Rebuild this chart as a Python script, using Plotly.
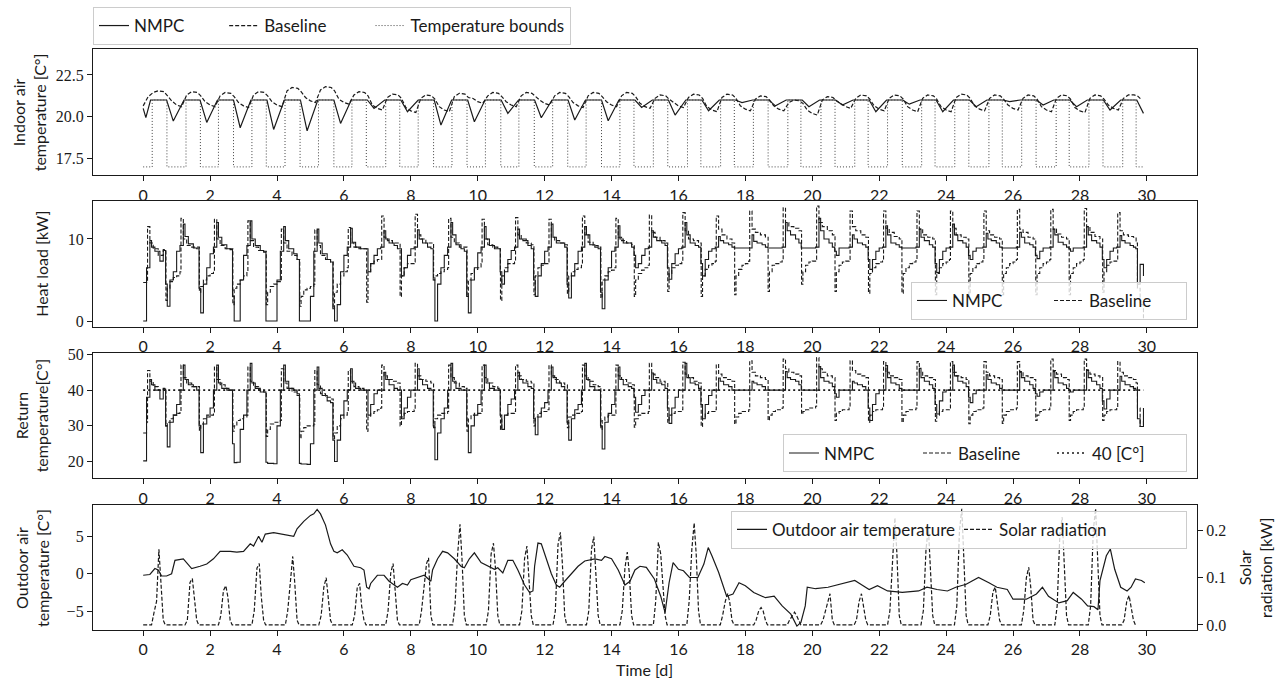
import plotly.graph_objects as go

# ---------------- data ----------------
T_END = 29.9          # last sample time [d]
X_TICKS = list(range(0, 31, 2))

# Indoor air temperature
indoor_nmpc_start_t = [0.0, 0.08]
indoor_nmpc_start_v = [20.5, 19.95]
indoor_nmpc_day_level = 21.0
indoor_nmpc_night_min = [19.74, 19.66, 19.34, 19.24, 19.16, 19.6, 20.5, 20.3, 19.5, 19.7,
                         20.2, 19.94, 19.8, 19.76, 20.55, 20.1, 20.36, 20.85, 20.65, 20.6,
                         20.7, 20.3, 20.75, 20.3, 20.6, 20.9, 20.7, 20.6, 20.4, 20.2]
IN_OFF = [0.22, 0.70, 0.90]

BI_OFF = [0.0, 0.15, 0.3, 0.45, 0.62, 0.72, 0.85]
indoor_baseline = [
    [20.65, 21.2, 21.45, 21.55, 21.5, 21.25, 20.95],
    [20.7, 20.6, 21.3, 21.5, 21.45, 21.25, 20.9],
    [20.7, 20.6, 21.25, 21.45, 21.4, 21.2, 20.85],
    [20.65, 20.55, 21.3, 21.5, 21.45, 21.25, 20.9],
    [20.7, 20.6, 21.55, 21.75, 21.7, 21.5, 21.15],
    [20.95, 20.85, 21.6, 21.8, 21.75, 21.55, 21.05],
    [20.85, 20.75, 21.3, 21.5, 21.45, 21.25, 20.7],
    [20.5, 20.4, 21.15, 21.35, 21.3, 21.1, 20.55],
    [20.35, 20.25, 21.1, 21.3, 21.25, 21.05, 20.6],
    [20.4, 20.3, 21.2, 21.4, 21.35, 21.15, 21.1],
    [20.9, 20.8, 21.25, 21.45, 21.4, 21.2, 20.9],
    [20.7, 20.6, 21.25, 21.45, 21.4, 21.2, 21.0],
    [20.8, 20.7, 21.25, 21.45, 21.4, 21.2, 20.85],
    [20.65, 20.55, 21.25, 21.45, 21.4, 21.2, 20.9],
    [20.7, 20.6, 21.25, 21.45, 21.4, 21.2, 20.8],
    [20.6, 20.5, 21.1, 21.3, 21.25, 21.05, 20.85],
    [20.65, 20.55, 21.15, 21.35, 21.3, 21.1, 20.6],
    [20.4, 20.3, 21.15, 21.35, 21.3, 21.1, 20.65],
    [20.45, 20.35, 21.05, 21.25, 21.2, 21.0, 20.65],
    [20.45, 20.35, 20.85, 21.0, 20.95, 20.8, 20.4],
    [20.2, 20.1, 21.0, 21.2, 21.15, 20.95, 20.8],
    [20.6, 20.5, 21.1, 21.3, 21.25, 21.05, 20.65],
    [20.45, 20.35, 21.1, 21.3, 21.25, 21.05, 20.6],
    [20.4, 20.3, 21.1, 21.3, 21.25, 21.05, 20.6],
    [20.4, 20.3, 21.15, 21.35, 21.3, 21.1, 20.65],
    [20.45, 20.35, 21.1, 21.3, 21.25, 21.05, 20.7],
    [20.5, 20.4, 21.1, 21.3, 21.25, 21.05, 20.6],
    [20.4, 20.3, 21.1, 21.3, 21.25, 21.05, 20.55],
    [20.35, 20.25, 21.1, 21.3, 21.25, 21.05, 20.7],
    [20.5, 20.4, 21.1, 21.3, 21.3, 21.25, 21.0],
]

bound_low, bound_high = 17.0, 21.0
bound_on = [0.27, 1.28, 2.25, 3.25, 4.24, 5.24, 6.24, 7.25, 8.22, 9.23,
            10.23, 11.23, 12.24, 13.24, 14.25, 15.25, 16.27, 17.26, 18.24, 19.27,
            20.26, 21.27, 22.25, 23.27, 24.26, 25.28, 26.26, 27.29, 28.27, 29.28]
bound_off = [0.71, 1.71, 2.70, 3.68, 4.69, 5.70, 6.67, 7.67, 8.68, 9.68,
             10.69, 11.69, 12.69, 13.70, 14.67, 15.68, 16.67, 17.67, 18.68, 19.66,
             20.68, 21.67, 22.69, 23.67, 24.68, 25.68, 26.69, 27.68, 28.69, 29.68]

# Heat load [kW]
N_OFF = [0.0, 0.1, 0.2, 0.25, 0.35, 0.5, 0.6, 0.67, 0.72, 0.8, 0.9]
heat_nmpc = [
    [0.0, 6.5, 9.8, 9.0, 8.5, 7.3, 8.6, 4.5, 1.8, 5.0, 6.0],
    [8.5, 9.2, 11.8, 10.3, 9.4, 8.9, 8.8, 4.0, 1.0, 4.5, 6.5],
    [8.2, 9.0, 12.0, 10.2, 9.3, 8.8, 8.7, 3.0, 0.0, 0.0, 5.0],
    [8.0, 9.2, 12.2, 10.0, 9.2, 8.6, 8.4, 0.0, 0.0, 0.0, 0.0],
    [5.0, 8.5, 11.5, 9.8, 8.8, 8.2, 7.5, 0.0, 0.0, 0.0, 0.0],
    [3.0, 8.5, 11.2, 9.5, 8.2, 7.5, 7.2, 1.5, 0.0, 2.0, 6.0],
    [8.0, 9.0, 11.3, 9.6, 9.0, 8.8, 8.8, 8.8, 6.0, 7.0, 8.0],
    [8.8, 9.0, 11.0, 10.0, 9.5, 9.2, 8.8, 8.8, 5.5, 6.5, 8.0],
    [8.8, 9.0, 11.1, 10.0, 9.5, 9.0, 8.8, 5.0, 0.0, 4.5, 6.5],
    [8.0, 9.0, 12.0, 10.5, 9.3, 8.8, 8.5, 3.0, 1.0, 5.0, 6.5],
    [8.3, 9.0, 11.5, 10.0, 9.2, 8.8, 8.8, 6.0, 4.5, 6.0, 7.5],
    [8.6, 9.0, 11.2, 10.0, 9.8, 9.2, 8.8, 5.0, 3.0, 5.5, 7.0],
    [8.5, 9.0, 11.8, 10.2, 9.5, 9.5, 9.0, 4.5, 2.8, 5.5, 7.0],
    [8.5, 9.0, 11.5, 10.5, 9.3, 9.0, 8.8, 3.5, 1.5, 5.0, 6.5],
    [8.5, 9.0, 11.6, 10.0, 9.5, 9.5, 9.0, 8.0, 6.5, 7.0, 8.0],
    [8.8, 9.0, 11.0, 10.2, 9.8, 9.5, 9.2, 6.5, 5.1, 7.0, 8.2],
    [8.8, 9.0, 12.0, 10.5, 9.5, 9.2, 9.0, 7.0, 5.5, 7.5, 8.5],
    [8.8, 9.0, 10.3, 9.8, 9.5, 9.3, 9.0, 8.9, 8.9, 8.9, 8.9],
    [8.9, 8.9, 10.5, 9.7, 9.5, 9.3, 9.0, 8.9, 8.9, 8.9, 8.9],
    [8.9, 9.0, 12.0, 11.0, 10.5, 10.0, 9.5, 8.9, 8.9, 8.9, 8.9],
    [8.9, 9.0, 12.5, 11.0, 10.0, 9.5, 9.0, 8.5, 8.0, 8.9, 8.9],
    [8.9, 9.0, 10.5, 10.0, 9.5, 9.3, 9.0, 7.5, 6.3, 7.5, 8.5],
    [8.9, 9.0, 11.6, 10.5, 9.5, 9.3, 9.0, 8.9, 8.9, 8.9, 8.9],
    [8.9, 9.0, 11.2, 10.2, 9.8, 9.3, 9.0, 7.0, 5.9, 7.5, 8.5],
    [8.9, 9.0, 11.8, 10.5, 9.8, 9.5, 9.0, 8.0, 7.5, 8.5, 8.9],
    [8.9, 9.0, 10.7, 10.0, 9.8, 9.5, 9.0, 8.9, 8.9, 8.9, 8.9],
    [8.9, 9.0, 10.8, 10.2, 9.5, 9.3, 9.0, 8.0, 7.6, 8.5, 8.9],
    [8.9, 9.0, 11.2, 10.5, 9.6, 9.3, 9.0, 8.8, 8.5, 8.9, 8.9],
    [8.9, 9.0, 11.5, 10.5, 9.8, 9.5, 9.0, 7.5, 6.5, 7.5, 8.5],
    [8.9, 9.0, 10.4, 9.8, 9.5, 9.2, 9.0, 8.8, 4.5, 6.9, 5.5],
]

B_OFF = [0.0, 0.1, 0.13, 0.2, 0.3, 0.45, 0.6, 0.68, 0.72, 0.8, 0.9]
heat_baseline = [
    [4.7, 4.7, 11.5, 9.5, 8.8, 8.0, 8.7, 2.5, 4.0, 4.8, 5.3],
    [5.5, 6.0, 12.5, 10.0, 9.2, 9.0, 9.0, 3.5, 4.2, 5.0, 5.5],
    [5.8, 6.0, 12.4, 10.0, 9.2, 8.8, 8.8, 2.0, 4.0, 4.5, 5.0],
    [5.5, 6.0, 12.2, 9.8, 9.0, 8.6, 8.5, 2.0, 3.5, 4.2, 4.5],
    [4.8, 5.0, 11.2, 9.5, 8.5, 8.0, 7.5, 1.8, 3.0, 3.8, 4.0],
    [4.2, 4.5, 11.1, 9.2, 8.0, 7.5, 7.2, 1.5, 3.5, 4.5, 5.5],
    [6.0, 6.5, 11.4, 9.5, 9.0, 8.8, 8.8, 2.3, 6.0, 7.0, 7.3],
    [7.5, 7.5, 12.8, 10.2, 9.8, 9.5, 9.5, 3.0, 5.5, 6.5, 7.0],
    [7.0, 7.2, 13.0, 10.5, 10.0, 9.5, 9.5, 5.0, 5.5, 5.8, 6.0],
    [6.3, 6.5, 12.5, 10.2, 9.5, 9.0, 9.0, 3.0, 5.0, 5.8, 6.3],
    [6.5, 7.0, 12.4, 10.0, 9.3, 9.0, 8.8, 2.5, 5.5, 6.5, 7.0],
    [7.0, 7.2, 12.6, 10.5, 10.0, 9.5, 9.3, 3.2, 5.5, 6.5, 6.8],
    [7.0, 7.2, 12.4, 10.2, 9.8, 9.5, 9.3, 3.4, 5.5, 6.0, 6.3],
    [6.5, 6.8, 12.8, 10.5, 9.6, 9.2, 9.0, 2.8, 5.0, 5.5, 6.0],
    [6.2, 6.5, 12.5, 10.2, 9.8, 9.5, 9.3, 3.0, 5.0, 5.8, 6.2],
    [6.5, 6.8, 12.9, 10.8, 10.2, 9.8, 9.5, 3.6, 5.8, 6.5, 6.8],
    [7.0, 7.2, 13.2, 11.0, 10.0, 9.8, 9.5, 3.0, 5.5, 6.3, 6.8],
    [7.0, 7.3, 12.8, 11.2, 10.5, 10.0, 9.5, 3.2, 5.5, 6.3, 6.8],
    [7.0, 7.3, 13.4, 11.2, 10.8, 10.5, 10.2, 3.6, 6.0, 6.8, 7.0],
    [7.2, 7.5, 13.8, 12.0, 11.5, 11.3, 11.0, 4.5, 6.0, 6.8, 7.2],
    [7.3, 7.5, 14.0, 12.0, 11.5, 11.0, 10.5, 3.6, 6.0, 6.8, 7.2],
    [7.3, 7.5, 13.4, 11.5, 11.0, 10.5, 10.2, 3.4, 5.8, 6.5, 7.0],
    [7.2, 7.5, 13.4, 11.3, 10.8, 10.3, 10.0, 3.4, 5.8, 6.5, 7.0],
    [7.2, 7.5, 13.4, 11.2, 10.5, 10.2, 10.0, 3.2, 5.8, 6.5, 7.0],
    [7.2, 7.5, 13.4, 11.3, 10.5, 10.2, 10.0, 3.2, 5.8, 6.5, 7.0],
    [7.2, 7.5, 13.4, 11.0, 10.5, 10.2, 10.0, 3.2, 5.8, 6.5, 7.0],
    [7.2, 7.5, 13.6, 11.2, 10.8, 10.2, 10.0, 3.2, 5.8, 6.5, 7.0],
    [7.2, 7.5, 13.6, 11.2, 10.6, 10.2, 10.0, 3.2, 5.8, 6.5, 7.0],
    [7.2, 7.5, 13.7, 11.5, 10.8, 10.3, 10.0, 3.5, 6.0, 6.8, 7.2],
    [7.3, 7.5, 13.2, 11.0, 10.5, 10.3, 10.2, 9.5, 4.0, 2.0, 0.2],
]

# Return temperature [C]
return_nmpc = [
    [20.2, 38.0, 43.0, 41.5, 40.0, 37.5, 40.3, 30.0, 24.1, 31.0, 33.0],
    [36.0, 40.0, 47.0, 43.0, 41.5, 41.0, 40.0, 30.0, 22.5, 30.5, 32.5],
    [35.0, 40.0, 47.0, 42.0, 40.5, 40.0, 40.0, 25.0, 19.7, 19.8, 29.0],
    [33.0, 40.0, 47.5, 42.0, 40.5, 39.5, 39.5, 19.8, 19.5, 19.5, 19.4],
    [30.0, 40.0, 47.0, 42.5, 40.5, 40.0, 39.0, 19.5, 19.3, 19.3, 19.2],
    [25.0, 40.0, 46.5, 40.5, 38.5, 37.0, 36.5, 26.0, 20.0, 26.0, 33.0],
    [37.0, 40.0, 46.0, 42.0, 40.5, 40.0, 40.0, 40.0, 33.0, 36.0, 39.0],
    [40.0, 40.0, 45.0, 43.0, 41.5, 40.5, 40.0, 40.0, 32.0, 35.0, 38.0],
    [40.0, 40.0, 46.0, 43.0, 41.5, 40.5, 40.0, 30.0, 20.5, 28.0, 32.0],
    [35.0, 40.0, 47.5, 42.5, 40.5, 40.0, 40.0, 30.0, 22.5, 30.0, 33.0],
    [36.0, 40.0, 47.0, 42.0, 40.5, 40.0, 40.0, 33.0, 29.0, 33.0, 36.0],
    [37.5, 40.0, 45.0, 43.0, 42.0, 41.0, 40.5, 32.0, 27.5, 32.5, 35.0],
    [36.5, 40.0, 46.5, 43.5, 42.0, 41.0, 40.0, 31.0, 26.0, 32.0, 34.5],
    [36.0, 40.0, 47.5, 43.0, 41.0, 40.0, 40.0, 30.0, 23.5, 31.0, 33.5],
    [36.0, 40.0, 46.5, 43.0, 41.5, 41.0, 40.5, 38.0, 33.8, 36.0, 38.5],
    [40.0, 40.0, 44.8, 43.0, 42.0, 41.5, 40.5, 35.0, 30.7, 35.0, 38.0],
    [40.0, 40.0, 47.5, 43.5, 42.0, 41.5, 40.5, 36.0, 32.0, 36.0, 38.5],
    [40.0, 40.0, 43.4, 42.5, 41.5, 41.0, 40.0, 40.0, 40.0, 40.0, 40.0],
    [40.0, 40.0, 42.5, 42.0, 41.5, 41.0, 40.0, 40.0, 40.0, 40.0, 40.0],
    [40.0, 40.0, 45.2, 43.5, 43.0, 42.5, 41.5, 40.0, 40.0, 40.0, 40.0],
    [40.0, 40.0, 46.6, 43.5, 42.5, 42.0, 41.0, 39.0, 38.0, 40.0, 40.0],
    [40.0, 40.0, 42.5, 42.0, 41.5, 41.0, 40.0, 35.0, 31.5, 36.0, 39.0],
    [40.0, 40.0, 46.9, 43.5, 42.0, 41.5, 40.5, 40.0, 40.0, 40.0, 40.0],
    [40.0, 40.0, 46.1, 43.5, 42.5, 41.5, 40.5, 36.0, 33.3, 37.0, 39.5],
    [40.0, 40.0, 47.0, 44.0, 42.5, 42.0, 41.0, 38.0, 36.5, 39.0, 40.0],
    [40.0, 40.0, 44.3, 43.0, 42.0, 41.5, 40.5, 40.0, 40.0, 40.0, 40.0],
    [40.0, 40.0, 45.2, 43.5, 42.5, 41.5, 40.5, 39.0, 38.3, 39.5, 40.0],
    [40.0, 40.0, 45.2, 43.5, 42.0, 41.5, 40.5, 40.0, 39.5, 40.0, 40.0],
    [40.0, 40.0, 45.7, 43.5, 42.5, 41.5, 40.5, 37.0, 34.7, 37.5, 40.0],
    [40.0, 40.0, 43.9, 42.5, 41.5, 41.0, 40.5, 40.0, 32.0, 29.8, 35.0],
]
return_baseline = [
    [28.0, 31.0, 45.5, 42.5, 41.0, 40.0, 40.5, 30.0, 31.0, 32.0, 33.0],
    [33.5, 34.0, 47.0, 43.5, 42.0, 41.0, 41.0, 28.8, 30.5, 32.0, 33.0],
    [33.0, 33.5, 46.5, 43.0, 41.5, 40.5, 40.0, 28.5, 30.0, 31.5, 32.0],
    [32.5, 33.0, 46.5, 42.5, 41.0, 40.0, 39.5, 27.0, 29.0, 30.5, 31.0],
    [31.0, 31.5, 46.0, 42.0, 40.5, 39.5, 38.5, 26.5, 28.5, 29.5, 30.0],
    [30.0, 30.5, 45.5, 41.5, 39.0, 38.0, 37.5, 26.5, 28.0, 30.0, 32.0],
    [33.0, 34.0, 45.5, 42.5, 41.0, 40.5, 40.0, 28.5, 32.5, 33.5, 34.0],
    [34.5, 35.0, 47.0, 44.0, 43.0, 42.5, 42.0, 30.0, 32.5, 33.5, 34.0],
    [34.0, 34.5, 47.5, 44.0, 43.0, 42.5, 42.0, 29.5, 32.0, 33.0, 33.5],
    [33.5, 34.0, 47.0, 43.5, 42.0, 41.0, 40.5, 28.5, 32.0, 33.0, 33.5],
    [33.5, 34.0, 47.0, 43.5, 42.0, 41.0, 40.5, 29.0, 32.0, 33.0, 33.5],
    [33.5, 34.0, 47.0, 44.0, 43.0, 42.5, 42.0, 30.0, 32.5, 33.5, 34.0],
    [34.0, 34.5, 47.0, 44.0, 43.0, 42.0, 41.5, 29.5, 32.5, 33.0, 33.5],
    [33.5, 34.0, 47.0, 44.0, 42.5, 41.5, 41.0, 29.0, 31.5, 32.5, 33.0],
    [33.0, 33.5, 47.0, 44.0, 43.0, 42.0, 41.5, 29.6, 32.0, 33.0, 33.5],
    [33.5, 34.0, 47.5, 44.5, 43.5, 42.5, 42.0, 31.0, 33.0, 33.5, 34.0],
    [34.0, 34.5, 47.8, 44.5, 43.5, 42.5, 42.0, 29.8, 32.5, 33.5, 34.0],
    [34.0, 34.5, 47.2, 44.5, 43.5, 43.0, 42.5, 30.5, 32.5, 33.5, 34.0],
    [34.0, 34.5, 48.2, 45.0, 44.0, 43.5, 43.0, 31.5, 33.0, 34.0, 34.5],
    [34.5, 35.0, 48.7, 46.0, 45.0, 44.5, 44.0, 33.3, 34.0, 34.5, 35.0],
    [35.0, 35.5, 49.1, 46.0, 45.0, 44.0, 43.5, 31.5, 33.5, 34.0, 34.5],
    [34.5, 35.0, 48.2, 45.5, 44.5, 44.0, 43.5, 31.0, 33.0, 34.0, 34.5],
    [34.5, 35.0, 48.0, 45.0, 44.0, 43.5, 43.0, 31.0, 33.0, 34.0, 34.5],
    [34.5, 35.0, 48.0, 45.0, 44.0, 43.5, 43.0, 31.3, 33.0, 34.0, 34.5],
    [34.5, 35.0, 48.0, 45.0, 44.0, 43.5, 43.0, 30.6, 33.0, 34.0, 34.5],
    [34.5, 35.0, 48.0, 45.0, 44.0, 43.5, 43.0, 30.7, 33.0, 34.0, 34.5],
    [34.5, 35.0, 48.0, 45.0, 44.0, 43.5, 43.0, 31.5, 33.0, 34.0, 34.5],
    [34.5, 35.0, 48.7, 45.5, 44.5, 43.5, 43.0, 31.5, 33.0, 34.0, 34.5],
    [34.5, 35.0, 48.7, 45.5, 44.5, 44.0, 43.5, 31.5, 33.0, 34.0, 34.5],
    [34.5, 35.0, 48.0, 45.0, 44.0, 43.5, 43.0, 42.0, 35.0, 29.8, 32.0],
]
return_ref = 40.0

# Outdoor air temperature: (time [d], value [C])
outdoor_temp = [
    (0.0, -0.2), (0.2, -0.1), (0.35, 0.7), (0.45, 0.5), (0.55, -0.3), (0.7, -0.3), (0.85, 0.0),
    (0.95, 1.8), (1.2, 2.0), (1.3, 1.5), (1.45, 0.7), (1.7, 1.0), (1.9, 1.3), (2.1, 2.0),
    (2.3, 3.0), (2.6, 3.0), (2.8, 2.9), (3.0, 3.0), (3.2, 4.0), (3.3, 3.7), (3.45, 5.0),
    (3.55, 4.2), (3.65, 5.3), (3.9, 5.5), (4.1, 5.3), (4.3, 5.2), (4.5, 5.0), (4.6, 6.0),
    (4.8, 7.0), (5.0, 7.8), (5.1, 8.0), (5.2, 8.6), (5.3, 8.0), (5.45, 6.5), (5.55, 5.0),
    (5.6, 4.0), (5.7, 3.0), (5.8, 2.8), (5.95, 3.2), (6.1, 2.5), (6.3, 1.0), (6.5, 0.8),
    (6.6, 0.5), (6.68, -1.8), (6.75, -2.0), (6.8, -1.3), (7.0, -0.2), (7.2, -0.2), (7.35, -1.0),
    (7.6, -1.8), (7.75, -1.3), (7.9, -1.5), (8.0, -0.8), (8.2, -0.5), (8.4, -0.2), (8.6, -1.0),
    (8.65, 0.5), (8.8, 2.0), (8.95, 3.0), (9.1, 2.8), (9.3, 2.0), (9.5, 1.0), (9.6, 0.8),
    (9.75, 2.0), (9.9, 2.8), (10.1, 1.5), (10.3, 1.0), (10.5, 0.6), (10.6, 0.8), (10.75, 0.1),
    (10.9, 1.8), (11.05, 1.8), (11.2, 0.5), (11.4, -1.5), (11.55, -2.5), (11.65, -2.3),
    (11.7, 1.0), (11.8, 4.1), (11.9, 4.0), (12.05, 2.0), (12.2, 0.0), (12.35, -1.5),
    (12.45, -1.8), (12.6, -1.0), (12.8, 0.0), (13.0, 1.0), (13.2, 1.7), (13.5, 2.0),
    (13.7, 1.8), (13.8, 2.3), (14.0, 2.0), (14.2, 0.5), (14.4, -1.5), (14.55, -1.0),
    (14.7, 0.5), (14.85, 1.0), (15.04, 0.85), (15.28, -0.7), (15.47, -3.0), (15.6, -5.2),
    (15.72, -1.2), (15.84, 1.5), (16.0, 0.6), (16.15, 0.4), (16.33, -0.5), (16.58, -0.5),
    (16.76, 1.3), (16.89, 3.5), (17.0, 2.4), (17.2, 0.2), (17.44, -3.0), (17.63, -2.7),
    (17.81, -1.2), (18.0, -1.6), (18.25, -2.5), (18.6, -3.2), (18.86, -3.0), (19.1, -4.3),
    (19.36, -5.4), (19.54, -7.0), (19.66, -6.5), (19.79, -4.3), (19.85, -1.8), (20.1, -2.0),
    (20.47, -1.8), (20.84, -1.4), (21.27, -0.9), (21.45, -1.4), (21.7, -2.1), (21.95, -1.6),
    (22.25, -2.3), (22.69, -2.5), (23.18, -2.3), (23.43, -1.8), (23.73, -2.1), (24.04, -2.3),
    (24.29, -1.8), (24.6, -1.4), (24.97, -0.5), (25.28, -1.2), (25.52, -1.8), (25.83, -2.1),
    (26.0, -3.4), (26.4, -3.4), (26.7, -2.7), (26.88, -1.8), (27.06, -3.0), (27.37, -3.9),
    (27.62, -3.6), (27.8, -2.5), (28.05, -3.4), (28.23, -4.3), (28.42, -4.4), (28.54, -4.8),
    (28.6, -0.9), (28.79, 2.4), (28.91, 3.3), (29.04, 0.6), (29.22, -1.8), (29.41, -2.3),
    (29.53, -1.8), (29.66, -0.7), (29.84, -0.9), (29.94, -1.2),
]

# Solar radiation [kW], per day
S_OFF = [0.0, 0.25, 0.32, 0.4, 0.47, 0.53, 0.6, 0.66]
solar = [
    [0, 0, 0.025, 0.05, 0.16, 0.09, 0.01, 0],
    [0, 0, 0.01, 0.09, 0.098, 0.05, 0.01, 0],
    [0, 0, 0.02, 0.073, 0.083, 0.06, 0.01, 0],
    [0, 0, 0.03, 0.12, 0.13, 0.06, 0.01, 0],
    [0, 0, 0.03, 0.10, 0.145, 0.09, 0.01, 0],
    [0, 0, 0.02, 0.08, 0.10, 0.06, 0.01, 0],
    [0, 0, 0.02, 0.08, 0.088, 0.04, 0.01, 0],
    [0, 0, 0.03, 0.11, 0.13, 0.07, 0.01, 0],
    [0, 0, 0.03, 0.09, 0.13, 0.142, 0.02, 0],
    [0, 0, 0.04, 0.15, 0.213, 0.14, 0.02, 0],
    [0, 0, 0.03, 0.15, 0.173, 0.12, 0.02, 0],
    [0, 0, 0.03, 0.14, 0.167, 0.10, 0.02, 0],
    [0, 0, 0.03, 0.17, 0.196, 0.13, 0.02, 0],
    [0, 0, 0.03, 0.16, 0.187, 0.12, 0.02, 0],
    [0, 0, 0.03, 0.12, 0.154, 0.11, 0.02, 0],
    [0, 0, 0.05, 0.175, 0.15, 0.09, 0.02, 0],
    [0, 0, 0.05, 0.16, 0.216, 0.15, 0.03, 0],
    [0, 0, 0.02, 0.05, 0.066, 0.05, 0.01, 0],
    [0, 0, 0.01, 0.03, 0.037, 0.03, 0.01, 0],
    [0, 0, 0.01, 0.02, 0.027, 0.02, 0.01, 0],
    [0, 0, 0.01, 0.03, 0.05, 0.066, 0.01, 0],
    [0, 0, 0.01, 0.05, 0.066, 0.04, 0.01, 0],
    [0, 0, 0.03, 0.15, 0.227, 0.15, 0.02, 0],
    [0, 0, 0.03, 0.16, 0.207, 0.13, 0.02, 0],
    [0, 0, 0.04, 0.20, 0.246, 0.15, 0.02, 0],
    [0, 0, 0.02, 0.07, 0.08, 0.05, 0.01, 0],
    [0, 0, 0.03, 0.10, 0.122, 0.08, 0.01, 0],
    [0, 0, 0.04, 0.19, 0.228, 0.14, 0.02, 0],
    [0, 0, 0.04, 0.20, 0.246, 0.15, 0.02, 0],
    [0, 0, 0.01, 0.05, 0.062, 0.04, 0.01, 0],
]

# ---------------- helpers ----------------
def expand(rows, offs):
    t, v = [], []
    for d, row in enumerate(rows):
        for o, val in zip(offs, row):
            t.append(d + o)
            v.append(val)
    return t, v


def close_step(t, v):
    # extend last step value to the end of the record
    return t + [T_END], v + [v[-1]]


# indoor NMPC
in_t = list(indoor_nmpc_start_t)
in_v = list(indoor_nmpc_start_v)
for d, m in enumerate(indoor_nmpc_night_min):
    for o, val in zip(IN_OFF, [indoor_nmpc_day_level, indoor_nmpc_day_level, m]):
        in_t.append(d + o)
        in_v.append(val)
bi_t, bi_v = expand(indoor_baseline, BI_OFF)

bd_t, bd_v = [0.0], [bound_low]
for on, off in zip(bound_on, bound_off):
    bd_t += [on, off]
    bd_v += [bound_high, bound_low]
bd_t.append(T_END)
bd_v.append(bound_low)

hn_t, hn_v = close_step(*expand(heat_nmpc, N_OFF))
hb_t, hb_v = close_step(*expand(heat_baseline, B_OFF))
rn_t, rn_v = close_step(*expand(return_nmpc, N_OFF))
rb_t, rb_v = close_step(*expand(return_baseline, B_OFF))
so_t, so_v = expand(solar, S_OFF)
ot_t = [p[0] for p in outdoor_temp]
ot_v = [p[1] for p in outdoor_temp]

# ---------------- figure ----------------
W, H = 1276, 688
INK = "#1a1a1a"
SANS = "Lato"
SERIF = "Liberation Serif"
PAD = "\u00a0"


def px_x(p):
    return p / W


def px_y(p):
    return 1 - p / H


panels = [(43, 171), (197, 325), (352, 479), (506, 633)]
XL, XR = 93, 1197

fig = go.Figure()
lw = 1.2
solid = dict(color=INK, width=lw)
dashed = dict(color=INK, width=lw, dash="4px,2px")

fig.add_trace(go.Scatter(x=in_t, y=in_v, mode="lines", line=solid, name="NMPC" + PAD * 8,
                         xaxis="x", yaxis="y", legend="legend"))
fig.add_trace(go.Scatter(x=bi_t, y=bi_v, mode="lines", line=dashed, name="Baseline" + PAD * 9,
                         xaxis="x", yaxis="y", legend="legend"))
fig.add_trace(go.Scatter(x=bd_t, y=bd_v, mode="lines", line=dict(color="#444", width=1, dash="1px,2px", shape="hv"),
                         name="Temperature bounds", xaxis="x", yaxis="y", legend="legend"))

fig.add_trace(go.Scatter(x=hn_t, y=hn_v, mode="lines", line=dict(color=INK, width=1.1, shape="hv"),
                         name="NMPC", xaxis="x2", yaxis="y2", legend="legend2"))
fig.add_trace(go.Scatter(x=hb_t, y=hb_v, mode="lines", line=dict(color=INK, width=1.1, dash="4px,2px", shape="hv"),
                         name="Baseline", xaxis="x2", yaxis="y2", legend="legend2"))

fig.add_trace(go.Scatter(x=rn_t, y=rn_v, mode="lines", line=dict(color=INK, width=1.1, shape="hv"),
                         name="NMPC", xaxis="x3", yaxis="y3", legend="legend3"))
fig.add_trace(go.Scatter(x=rb_t, y=rb_v, mode="lines", line=dict(color=INK, width=1.1, dash="4px,2px", shape="hv"),
                         name="Baseline", xaxis="x3", yaxis="y3", legend="legend3"))
fig.add_trace(go.Scatter(x=[0.0, T_END], y=[return_ref, return_ref], mode="lines",
                         line=dict(color=INK, width=1.6, dash="2px,3px"),
                         name="40 [C°]", xaxis="x3", yaxis="y3", legend="legend3"))

fig.add_trace(go.Scatter(x=ot_t, y=ot_v, mode="lines", line=solid, name="Outdoor air temperature",
                         xaxis="x4", yaxis="y4", legend="legend4"))
fig.add_trace(go.Scatter(x=so_t, y=so_v, mode="lines", line=dashed, name="Solar radiation",
                         xaxis="x4", yaxis="y5", legend="legend4"))

xcommon = dict(range=[-1.5, 31.5], tickvals=X_TICKS, ticks="outside", ticklen=5, tickwidth=1,
               tickcolor=INK, showline=True, linecolor=INK, linewidth=1.3, mirror=True,
               showgrid=False, zeroline=False, domain=[px_x(XL), px_x(XR)],
               tickfont=dict(family=SANS, size=16, color=INK))
ycommon = dict(ticks="outside", ticklen=5, tickwidth=1, tickcolor=INK, showline=True,
               linecolor=INK, linewidth=1.3, mirror=True, showgrid=False, zeroline=False,
               tickfont=dict(family=SERIF, size=16, color=INK))

layout = dict(width=W, height=H, margin=dict(l=0, r=0, t=0, b=0),
              plot_bgcolor="white", paper_bgcolor="white", showlegend=True)
yranges = [[16.5, 24.03], [-0.7, 14.64], [15.3, 50.3], [-7.5, 9.2]]
yticks = [([17.5, 20.0, 22.5], ".1f"), ([0, 10], "d"), ([20, 30, 40, 50], "d"), ([-5, 0, 5], "d")]
for i, (top, bot) in enumerate(panels):
    k = "" if i == 0 else str(i + 1)
    layout["xaxis" + k] = dict(xcommon, anchor="y" + k)
    layout["yaxis" + k] = dict(ycommon, anchor="x" + k, range=yranges[i],
                               domain=[px_y(bot), px_y(top)],
                               tickvals=yticks[i][0], tickformat=yticks[i][1])
layout["yaxis5"] = dict(ycommon, anchor="x4", overlaying="y4", side="right",
                        range=[-0.0104, 0.254], tickvals=[0.0, 0.1, 0.2], tickformat=".1f",
                        mirror=False)

leg_common = dict(orientation="h", bgcolor="rgba(255,255,255,0.8)", bordercolor="#cccccc",
                  borderwidth=1, font=dict(family=SANS, size=17, color=INK))
layout["legend"] = dict(leg_common, x=px_x(93), y=1.0, xanchor="left", yanchor="top")
layout["legend2"] = dict(leg_common, x=px_x(1187), y=px_y(318), xanchor="right", yanchor="bottom",
                         entrywidthmode="pixels", entrywidth=92)
layout["legend3"] = dict(leg_common, x=px_x(1187), y=px_y(473), xanchor="right", yanchor="bottom",
                         entrywidthmode="pixels", entrywidth=89)
layout["legend4"] = dict(leg_common, x=px_x(1187), y=px_y(512), xanchor="right", yanchor="top",
                         entrywidthmode="pixels", entrywidth=182)

title_font = dict(family=SANS, size=16, color=INK)
annots = [
    ("Indoor air<br>temperature [C°]", 29, 107),
    ("Heat load [kW]", 42, 261),
    ("Return<br>temperature[C°]", 32, 415),
    ("Outdoor air<br>temperature [C°]", 32, 570),
    ("Solar<br>radiation [kW]", 1255, 570),
]
annotations = []
for txt, xp, yp in annots:
    annotations.append(dict(text=txt, xref="paper", yref="paper", x=px_x(xp), y=px_y(yp),
                            xanchor="center", yanchor="middle", textangle=-90, showarrow=False,
                            font=title_font))
annotations.append(dict(text="Time [d]", xref="paper", yref="paper", x=px_x(645), y=px_y(673),
                        xanchor="center", yanchor="middle", showarrow=False, font=title_font))
layout["annotations"] = annotations

fig.update_layout(**layout)
fig.write_html("out.html")
